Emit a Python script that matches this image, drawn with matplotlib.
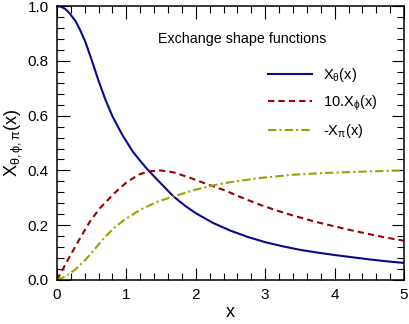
import matplotlib
matplotlib.use('Agg')
import matplotlib.pyplot as plt
from matplotlib.ticker import MultipleLocator

plt.rcParams['font.family'] = ['Liberation Sans', 'DejaVu Sans']
plt.rcParams['mathtext.fontset'] = 'custom'
plt.rcParams['mathtext.rm'] = 'Liberation Sans'
plt.rcParams['mathtext.it'] = 'Liberation Sans'

# values
x_theta = [0, 0.06, 0.12, 0.18, 0.27, 0.34, 0.41, 0.51, 0.60, 0.70, 0.80, 0.94, 1.09,
           1.20, 1.30, 1.45, 1.68, 1.85, 2.0, 2.25, 2.5, 2.75, 3.0, 3.25, 3.5, 3.75,
           4.0, 4.25, 4.5, 4.75, 5.0]
y_theta = [1.0, 0.998, 0.99, 0.975, 0.945, 0.91, 0.87, 0.797, 0.728, 0.658, 0.598,
           0.531, 0.47, 0.435, 0.405, 0.365, 0.305, 0.27, 0.244, 0.208, 0.18, 0.157,
           0.138, 0.123, 0.11, 0.1, 0.091, 0.083, 0.075, 0.068, 0.062]

x_phi = [0, 0.06, 0.19, 0.34, 0.48, 0.62, 0.82, 1.01, 1.2, 1.35, 1.49, 1.68, 1.92,
         2.16, 2.43, 2.67, 2.91, 3.15, 3.39, 3.73, 4.21, 4.69, 5.0]
y_phi = [0, 0.027, 0.088, 0.155, 0.215, 0.262, 0.315, 0.358, 0.387, 0.397, 0.40,
         0.393, 0.373, 0.35, 0.326, 0.3, 0.276, 0.255, 0.236, 0.212, 0.183, 0.157, 0.143]

x_pi = [0, 0.12, 0.26, 0.41, 0.55, 0.70, 0.84, 0.99, 1.2, 1.44, 1.68, 1.97, 2.26,
        2.5, 2.91, 3.39, 3.80, 4.21, 4.69, 5.0]
y_pi = [0, 0.012, 0.037, 0.073, 0.114, 0.159, 0.193, 0.223, 0.256, 0.285, 0.305,
        0.328, 0.346, 0.357, 0.372, 0.384, 0.39, 0.394, 0.398, 0.40]

labels = [r'X$_{\mathrm{\theta}}$(x)', r'10.X$_{\mathrm{\phi}}$(x)', r'-X$_{\mathrm{\pi}}$(x)']

fig = plt.figure(figsize=(4.09, 3.24), dpi=100)
ax = fig.add_axes([0.139, 0.136, 0.849, 0.845])

ax.plot(x_theta, y_theta, color='#0a0a8c', lw=1.5, label=labels[0])
ax.plot(x_phi, y_phi, color='#990000', lw=1.5, dashes=(3, 2), label=labels[1])
ax.plot(x_pi, y_pi, color='#a0a000', lw=1.5, dashes=(4, 1.5, 1, 1.5), label=labels[2])

ax.set_xlim(0, 5)
ax.set_ylim(0, 1)
ax.xaxis.set_major_locator(MultipleLocator(1))
ax.xaxis.set_minor_locator(MultipleLocator(0.2))
ax.yaxis.set_major_locator(MultipleLocator(0.2))
ax.yaxis.set_minor_locator(MultipleLocator(0.04))
ax.yaxis.set_major_formatter(matplotlib.ticker.FormatStrFormatter('%.1f'))
ax.tick_params(which='both', direction='in', top=True, right=True, labelsize=11)
ax.tick_params(which='major', length=9, width=0.8, pad=6)
ax.tick_params(which='minor', length=5, width=0.8)
for s in ax.spines.values():
    s.set_linewidth(1.1)

ax.set_xlabel('x', fontsize=13, labelpad=1)
ax.set_ylabel(r'X$_{\mathrm{\theta,\phi,\pi}}$(x)', fontsize=13, labelpad=1)

ax.text(0.291, 0.88, 'Exchange shape functions', transform=ax.transAxes,
        fontsize=10.3, va='center', ha='left')
ax.legend(loc='center left', bbox_to_anchor=(0.608, 0.646), frameon=False,
          fontsize=10.5, handlelength=3, handletextpad=0.8, labelspacing=0.65,
          borderpad=0, borderaxespad=0)

fig.savefig('out.png', dpi=100)
